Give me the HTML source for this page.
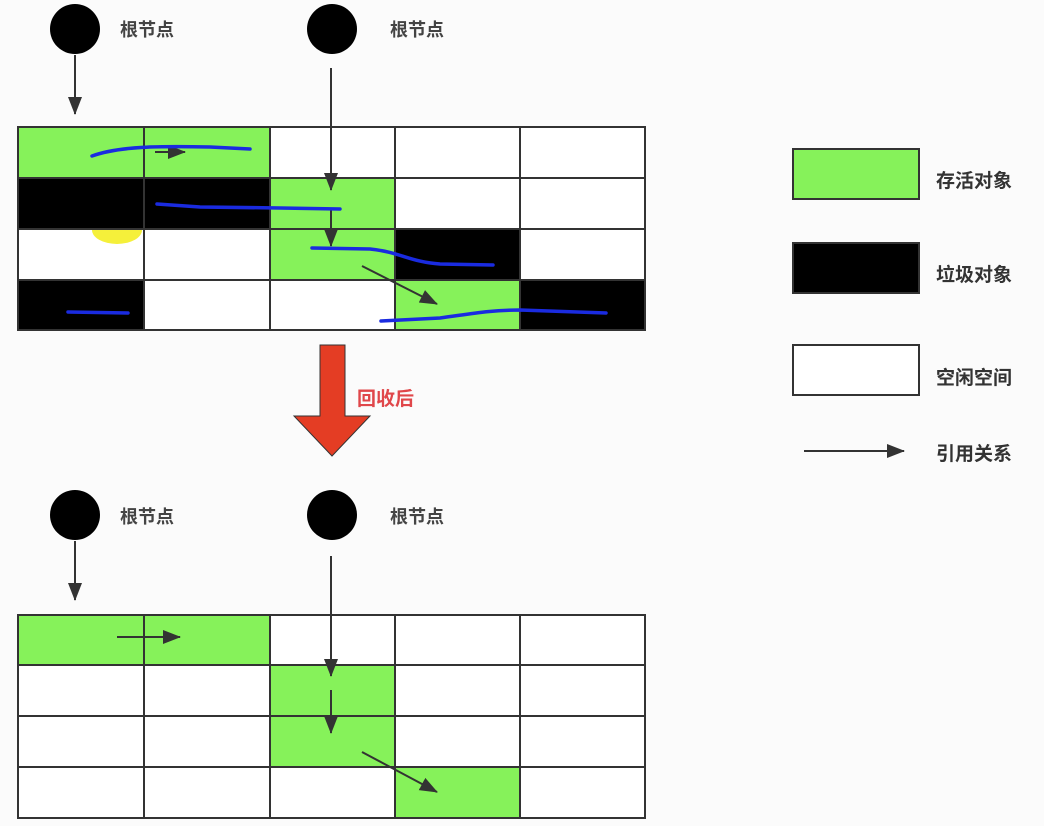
<!DOCTYPE html>
<html><head><meta charset="utf-8"><style>
html,body{margin:0;padding:0;background:#fbfbfb;}
svg{display:block;}
text{font-family:"Liberation Sans","Noto Sans CJK SC",sans-serif;font-weight:bold;}
</style></head><body>
<svg width="1044" height="826" viewBox="0 0 1044 826">
<defs>
<marker id="b" markerWidth="18" markerHeight="18" refX="17" refY="9" orient="auto" markerUnits="userSpaceOnUse" viewBox="0 0 18 18">
<path d="M0,2 L18,9 L0,16 z" fill="#333"/></marker>
</defs>
<rect width="1044" height="826" fill="#fbfbfb"/>
<!-- top roots -->
<circle cx="75" cy="29" r="25" fill="#000"/>
<text x="120" y="36" font-size="18" fill="#444">根节点</text>
<circle cx="332" cy="29" r="25" fill="#000"/>
<text x="390" y="36" font-size="18" fill="#444">根节点</text>
<!-- top grid -->
<g stroke="#333" stroke-width="2">
<rect x="18" y="127" width="126" height="51" fill="#86f25a"/>
<rect x="144" y="127" width="126" height="51" fill="#86f25a"/>
<rect x="270" y="127" width="125" height="51" fill="#fff"/>
<rect x="395" y="127" width="125" height="51" fill="#fff"/>
<rect x="520" y="127" width="125" height="51" fill="#fff"/>
<rect x="18" y="178" width="126" height="51" fill="#000"/>
<rect x="144" y="178" width="126" height="51" fill="#000"/>
<rect x="270" y="178" width="125" height="51" fill="#86f25a"/>
<rect x="395" y="178" width="125" height="51" fill="#fff"/>
<rect x="520" y="178" width="125" height="51" fill="#fff"/>
<rect x="18" y="229" width="126" height="51" fill="#fff"/>
<rect x="144" y="229" width="126" height="51" fill="#fff"/>
<rect x="270" y="229" width="125" height="51" fill="#86f25a"/>
<rect x="395" y="229" width="125" height="51" fill="#000"/>
<rect x="520" y="229" width="125" height="51" fill="#fff"/>
<rect x="18" y="280" width="126" height="50" fill="#000"/>
<rect x="144" y="280" width="126" height="50" fill="#fff"/>
<rect x="270" y="280" width="125" height="50" fill="#fff"/>
<rect x="395" y="280" width="125" height="50" fill="#86f25a"/>
<rect x="520" y="280" width="125" height="50" fill="#000"/>
</g>
<path d="M92,230 A25,14 0 0 0 142,230 Z" fill="#f5f03a"/>
<line x1="75" y1="55" x2="75" y2="114" stroke="#333" stroke-width="2" marker-end="url(#b)"/>
<line x1="331" y1="68" x2="331" y2="190" stroke="#333" stroke-width="2" marker-end="url(#b)"/>
<line x1="331" y1="210" x2="331" y2="246" stroke="#333" stroke-width="2" marker-end="url(#b)"/>
<line x1="362" y1="266" x2="437" y2="304" stroke="#333" stroke-width="2" marker-end="url(#b)"/>
<line x1="155" y1="152" x2="185" y2="152" stroke="#333" stroke-width="2" marker-end="url(#b)"/>
<g stroke="#1a2be0" stroke-width="3.5" fill="none" stroke-linecap="round">
<path d="M92,156 C120,146 160,146 210,147 L250,149"/>
<path d="M157,204 L200,207 L280,208 L340,209"/>
<path d="M312,248 L370,249 C400,252 410,262 440,264 L493,265"/>
<path d="M68,312 L128,313"/>
<path d="M381,321 L440,318 C470,314 490,310 520,310 L606,313"/>
</g>
<!-- red arrow -->
<path d="M320,345 L345,345 L345,416 L370,416 L332,456 L294,416 L320,416 Z" fill="#e43d24" stroke="#333" stroke-width="1"/>
<text x="357" y="405" font-size="19" fill="#e0474a">回收后</text>
<!-- legend -->
<rect x="793" y="149" width="126" height="50" fill="#86f25a" stroke="#333" stroke-width="2"/>
<text x="936" y="187" font-size="19" fill="#333">存活对象</text>
<rect x="793" y="243" width="126" height="50" fill="#000" stroke="#333" stroke-width="2"/>
<text x="936" y="281" font-size="19" fill="#333">垃圾对象</text>
<rect x="793" y="345" width="126" height="50" fill="#fff" stroke="#333" stroke-width="2"/>
<text x="936" y="384" font-size="19" fill="#333">空闲空间</text>
<line x1="804" y1="451" x2="904" y2="451" stroke="#333" stroke-width="2" marker-end="url(#b)"/>
<text x="936" y="460" font-size="19" fill="#333">引用关系</text>
<!-- bottom roots -->
<circle cx="75" cy="515" r="25" fill="#000"/>
<text x="120" y="523" font-size="18" fill="#444">根节点</text>
<circle cx="332" cy="515" r="25" fill="#000"/>
<text x="390" y="523" font-size="18" fill="#444">根节点</text>
<g stroke="#333" stroke-width="2">
<rect x="18" y="615" width="126" height="50" fill="#86f25a"/>
<rect x="144" y="615" width="126" height="50" fill="#86f25a"/>
<rect x="270" y="615" width="125" height="50" fill="#fff"/>
<rect x="395" y="615" width="125" height="50" fill="#fff"/>
<rect x="520" y="615" width="125" height="50" fill="#fff"/>
<rect x="18" y="665" width="126" height="51" fill="#fff"/>
<rect x="144" y="665" width="126" height="51" fill="#fff"/>
<rect x="270" y="665" width="125" height="51" fill="#86f25a"/>
<rect x="395" y="665" width="125" height="51" fill="#fff"/>
<rect x="520" y="665" width="125" height="51" fill="#fff"/>
<rect x="18" y="716" width="126" height="51" fill="#fff"/>
<rect x="144" y="716" width="126" height="51" fill="#fff"/>
<rect x="270" y="716" width="125" height="51" fill="#86f25a"/>
<rect x="395" y="716" width="125" height="51" fill="#fff"/>
<rect x="520" y="716" width="125" height="51" fill="#fff"/>
<rect x="18" y="767" width="126" height="51" fill="#fff"/>
<rect x="144" y="767" width="126" height="51" fill="#fff"/>
<rect x="270" y="767" width="125" height="51" fill="#fff"/>
<rect x="395" y="767" width="125" height="51" fill="#86f25a"/>
<rect x="520" y="767" width="125" height="51" fill="#fff"/>
</g>
<line x1="75" y1="541" x2="75" y2="600" stroke="#333" stroke-width="2" marker-end="url(#b)"/>
<line x1="331" y1="556" x2="331" y2="676" stroke="#333" stroke-width="2" marker-end="url(#b)"/>
<line x1="117" y1="637" x2="180" y2="637" stroke="#333" stroke-width="2" marker-end="url(#b)"/>
<line x1="331" y1="690" x2="331" y2="733" stroke="#333" stroke-width="2" marker-end="url(#b)"/>
<line x1="362" y1="752" x2="437" y2="792" stroke="#333" stroke-width="2" marker-end="url(#b)"/>
</svg>
</body></html>
